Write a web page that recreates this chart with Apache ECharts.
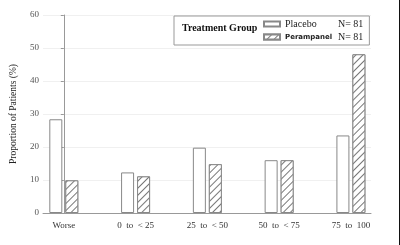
<!DOCTYPE html>
<html>
<head>
<meta charset="utf-8">
<script src="https://cdn.jsdelivr.net/npm/echarts@6/dist/echarts.min.js"></script>
<style>
  html, body { margin: 0; padding: 0; background: #fff; }
  #chart { width: 399px; height: 245px; border-right: 1px solid #111; }
</style>
</head>
<body>
<div id="chart"></div>
<script>
// 分类和数据
const categories = ['Worse', '0  to  < 25', '25  to  < 50', '50  to  < 75', '75  to  100']
const placebo = [28.4, 12.3, 19.8, 16.0, 23.5]
const perampanel = [9.9, 11.1, 14.8, 16.0, 48.1]
const yTicks = [0, 10, 20, 30, 40, 50, 60]
const groupN = { Placebo: 81, Perampanel: 81 }

const serif = 'Liberation Serif'

const dom = document.querySelector('#chart')
const myChart = echarts.init(dom, null, { renderer: 'canvas' })

const option = {
  animation: false,
  title: {
    text: 'Treatment Group',
    left: 177,
    top: 18,
    textStyle: { fontFamily: serif, fontSize: 10, fontWeight: 'bold', color: '#111' }
  },
  legend: {
    left: 174,
    top: 16,
    orient: 'vertical',
    icon: 'rect',
    itemWidth: 16,
    itemHeight: 5,
    itemGap: 3,
    padding: [3, 6, 3, 89],
    borderColor: '#999',
    borderWidth: 1,
    data: ['Placebo', 'Perampanel'],
    formatter: name => {
      const style = name === 'Placebo' ? 'p' : 'q'
      return '{' + style + '|' + name + '}{n|N= ' + groupN[name] + '}'
    },
    textStyle: {
      rich: {
        p: { fontFamily: serif, fontSize: 10, color: '#222', width: 53 },
        q: { fontFamily: 'DejaVu Sans', fontSize: 7, fontWeight: 'bold', color: '#222', width: 53 },
        n: { fontFamily: serif, fontSize: 10, color: '#222' }
      }
    }
  },
  grid: { left: 40, right: 28, top: 15, bottom: 32 },
  xAxis: {
    type: 'value',
    min: -0.29,
    max: 4.28,
    axisLine: { show: true, lineStyle: { color: '#999' } },
    axisTick: { show: false },
    splitLine: { show: false },
    axisLabel: {
      customValues: [0, 1, 2, 3, 4],
      formatter: v => categories[Math.round(v)],
      fontFamily: serif,
      fontSize: 9,
      color: '#333',
      margin: 8
    }
  },
  yAxis: {
    type: 'value',
    min: 0,
    max: 60,
    interval: 10,
    name: 'Proportion of Patients (%)',
    nameLocation: 'middle',
    nameGap: 25,
    nameTextStyle: { fontFamily: serif, fontSize: 9.5, color: '#222' },
    axisLine: { show: true, lineStyle: { color: '#999' } },
    axisTick: { show: true, length: 3, lineStyle: { color: '#999' } },
    axisLabel: {
      fontFamily: serif,
      fontSize: 9,
      color: '#555',
      margin: 4,
      formatter: v => yTicks.includes(v) ? String(v) : ''
    },
    splitLine: { show: true, lineStyle: { color: '#f0f0f0' } }
  },
  series: [
    {
      name: 'Placebo',
      type: 'bar',
      barWidth: 13,
      barGap: '23%',
      data: placebo.map((v, i) => [i, v]),
      itemStyle: { color: '#fff', borderColor: '#888', borderWidth: 1 }
    },
    {
      name: 'Perampanel',
      type: 'bar',
      barWidth: 13,
      barGap: '23%',
      data: perampanel.map((v, i) => [i, v]),
      itemStyle: {
        color: '#fff',
        borderColor: '#888',
        borderWidth: 1,
        decal: {
          symbol: 'rect',
          symbolSize: 1,
          dashArrayX: [1, 0],
          dashArrayY: [1, 4],
          rotation: -Math.PI / 4,
          color: '#777',
          backgroundColor: '#fff'
        }
      }
    }
  ]
}

myChart.setOption(option)
</script>
</body>
</html>
